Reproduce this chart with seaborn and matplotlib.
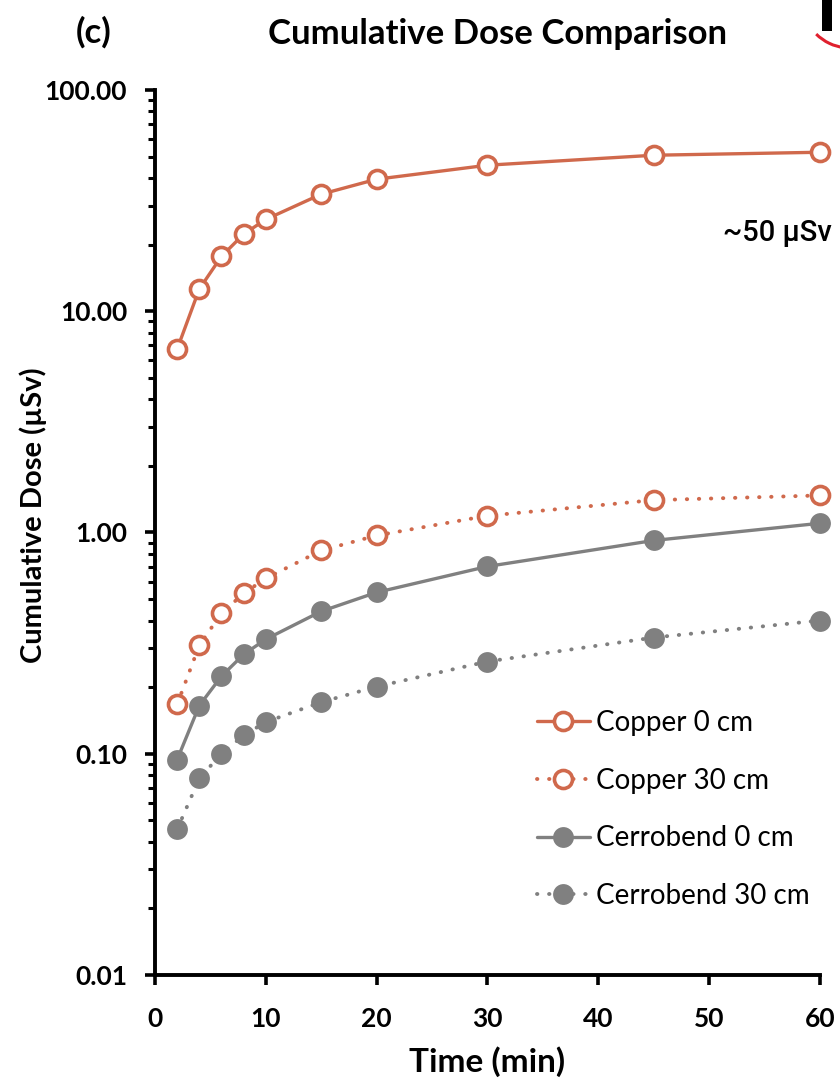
import numpy as np
import pandas as pd
import matplotlib
matplotlib.use("Agg")
import matplotlib.pyplot as plt
from matplotlib.patches import Rectangle, Arc
from matplotlib.ticker import FixedLocator, LogLocator, NullFormatter, FixedFormatter
import seaborn as sns

# Elapsed time (minutes) and cumulative dose (µSv) per shielding setup
time_min = [2, 4, 6, 8, 10, 15, 20, 30, 45, 60]
copper_0cm = [6.74, 12.6, 17.7, 22.3, 26.0, 33.8, 39.5, 45.7, 50.7, 52.3]
copper_30cm = [0.167, 0.309, 0.431, 0.530, 0.620, 0.829, 0.969, 1.19, 1.40, 1.47]
cerrobend_0cm = [0.094, 0.165, 0.224, 0.281, 0.329, 0.440, 0.536, 0.702, 0.920, 1.10]
cerrobend_30cm = [0.0455, 0.0773, 0.100, 0.121, 0.139, 0.171, 0.201, 0.261, 0.335, 0.400]

series_names = ["Copper 0 cm", "Copper 30 cm", "Cerrobend 0 cm", "Cerrobend 30 cm"]
series_values = [copper_0cm, copper_30cm, cerrobend_0cm, cerrobend_30cm]

y_tick_values = [0.01, 0.1, 1, 10, 100]
y_tick_labels = ["0.01", "0.10", "1.00", "10.00", "100.00"]
x_tick_values = [0, 10, 20, 30, 40, 50, 60]

df = pd.DataFrame({
    "Time": np.tile(time_min, len(series_names)),
    "Dose": np.concatenate(series_values),
    "Series": np.repeat(series_names, len(time_min)),
})

sns.set_theme(style="ticks")
plt.rcParams["font.family"] = ["Lato", "DejaVu Sans"]
for key in ["text.color", "axes.labelcolor", "xtick.color", "ytick.color"]:
    plt.rcParams[key] = "black"

COPPER = "#D0694C"
GREY = "#808080"
dotted = (0, (0.1, 3.0))

styles = {
    "Copper 0 cm": dict(color=COPPER, ls="-", lw=2.4, mfc="white", mec=COPPER, ms=13, mew=2.6),
    "Copper 30 cm": dict(color=COPPER, ls=dotted, lw=2.8, mfc="white", mec=COPPER, ms=13, mew=2.6),
    "Cerrobend 0 cm": dict(color=GREY, ls="-", lw=2.4, mfc=GREY, mec=GREY, ms=15, mew=0),
    "Cerrobend 30 cm": dict(color=GREY, ls=dotted, lw=2.8, mfc=GREY, mec=GREY, ms=15, mew=0),
}

fig = plt.figure(figsize=(8.4, 10.84), dpi=100)
ax = fig.add_axes([0.1845, 0.1006, 0.7915, 0.8164])

for name in series_names:
    st = styles[name]
    sub = df[df["Series"] == name]
    sns.lineplot(
        data=sub, x="Time", y="Dose", ax=ax, label=name,
        color=st["color"], linestyle=st["ls"], linewidth=st["lw"],
        marker="o", markersize=st["ms"], markerfacecolor=st["mfc"],
        markeredgecolor=st["mec"], markeredgewidth=st["mew"],
        dash_capstyle="round", solid_capstyle="round",
        estimator=None, errorbar=None, sort=False, clip_on=False,
    )

ax.set_yscale("log")
ax.set_ylim(0.01, 100)
ax.set_xlim(0, 60)

ax.yaxis.set_major_locator(FixedLocator(y_tick_values))
ax.yaxis.set_major_formatter(FixedFormatter(y_tick_labels))
ax.yaxis.set_minor_locator(LogLocator(base=10, subs=np.arange(2, 10)))
ax.yaxis.set_minor_formatter(NullFormatter())
ax.xaxis.set_major_locator(FixedLocator(x_tick_values))

for side in ["top", "right"]:
    ax.spines[side].set_visible(False)
for side in ["left", "bottom"]:
    ax.spines[side].set_linewidth(2.8)
    ax.spines[side].set_color("black")

ax.tick_params(axis="both", which="major", direction="out", length=7, width=2.6,
               colors="black", labelsize=19)
ax.tick_params(axis="x", which="major", pad=16)
ax.tick_params(axis="y", which="major", pad=13)
ax.tick_params(axis="y", which="minor", direction="out", length=5, width=2.2, colors="black")
for lbl in ax.get_xticklabels() + ax.get_yticklabels():
    lbl.set_fontweight("bold")

ax.set_xlabel("Time (min)", fontsize=24, fontweight="bold", labelpad=11)
ax.set_ylabel("Cumulative Dose (µSv)", fontsize=21, fontweight="bold")
ax.yaxis.set_label_coords(-0.162, 0.52)

fig.text(0.592, 0.969, "Cumulative Dose Comparison", fontsize=25, fontweight="bold",
         ha="center", va="center")
fig.text(0.111, 0.970, "(c)", fontsize=25, fontweight="bold", ha="center", va="center")

ax.text(1.018, 0.838, "~50 μSv", transform=ax.transAxes, fontsize=21, fontweight="medium",
        family=["Roboto", "DejaVu Sans"], ha="right", va="center")

leg = ax.legend(loc="upper left", bbox_to_anchor=(0.639, 0.345),
                bbox_transform=fig.transFigure, frameon=False,
                fontsize=20, handlelength=1.9, handletextpad=0.25, labelspacing=1.14,
                borderpad=0, borderaxespad=0)

# Partial logo mark at the top-right edge
fig.patches.append(Rectangle((822 / 840, 1 - 31 / 1084), 10 / 840, 31 / 1084,
                             transform=fig.transFigure, facecolor="black", edgecolor="none"))
fig.patches.append(Arc((850 / 840, 1.0), 96 / 840, 96 / 1084, theta1=218, theta2=262,
                       transform=fig.transFigure, color="#E0202E", linewidth=2.2))

fig.savefig("out.png", dpi=100)
